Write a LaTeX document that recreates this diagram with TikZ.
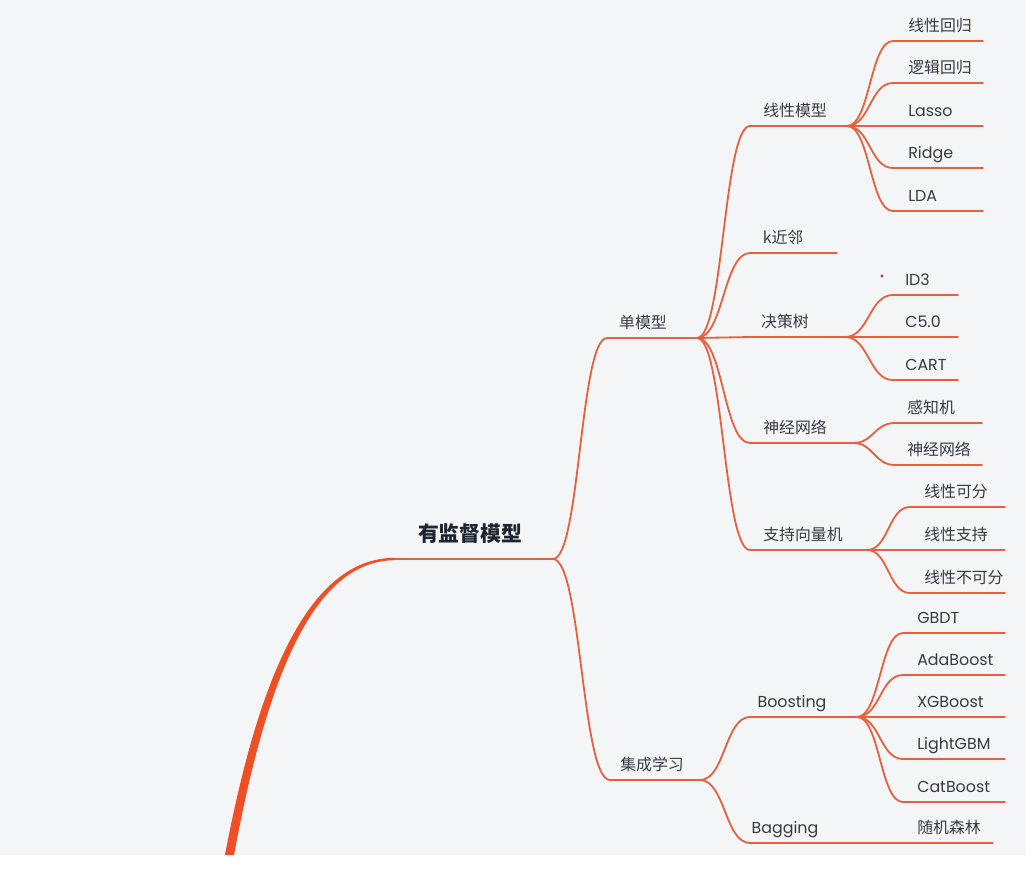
\documentclass[tikz,border=0pt]{standalone}
\usepackage{fontspec}
\setmainfont{Poppins}
\newfontfamily\cjk{Noto Sans CJK SC}
\usetikzlibrary{calc}
\definecolor{bg}{HTML}{F4F5F7}
\definecolor{brc}{HTML}{E5603D}
\definecolor{rootc}{HTML}{F04E25}
\definecolor{txt}{HTML}{363B43}
\definecolor{darktxt}{HTML}{1E2532}
\definecolor{dotc}{HTML}{C2304A}
\tikzset{
 x=0.75pt, y=-0.75pt,
 edge/.style={draw=brc, line width=1.35pt, line cap=round},
 lab/.style={anchor=base, inner sep=0pt, text=txt, font=\fontsize{11.9}{12}\selectfont},
 leaf/.style={anchor=base west, inner sep=0pt, text=txt, font=\fontsize{11.9}{12}\selectfont},
 cj/.style={font=\cjk\fontsize{11.9}{12}\selectfont},
 rootlab/.style={anchor=base, inner sep=0pt, text=darktxt, font=\cjk\bfseries\fontsize{15.6}{16}\selectfont},
}
\newcommand\mmlink[3]{\draw[edge] let \p1=(#1), \p2=(#2) in (#1) .. controls ({(\x1+\x2)/2},\y1) and ({(\x1+\x2)/2},\y2) .. (#2) -- (#3);}
\begin{document}
\begin{tikzpicture}
\fill[bg] (0,0) rectangle (1026,855);
\fill[white] (0,855) rectangle (1026,879);
\useasboundingbox (0,0) rectangle (1026,879);
% root trunk
\coordinate (r1) at (395,559);
\coordinate (h0) at (553,559);
\fill[rootc] (225,855) .. controls (258,680) and (308,557.8) .. (395,557.8) -- (395,560.2) .. controls (312,560.2) and (266,682) .. (234,855) -- cycle;
\draw[edge] (r1) -- (h0);
\node[rootlab] (root) at (470,541) {有监督模型};
% level 1
\coordinate (s1) at (607,338); \coordinate (h1) at (697,338);
\coordinate (s2) at (610,780); \coordinate (h2) at (700,780);
\mmlink{h0}{s1}{h1}
\mmlink{h0}{s2}{h2}
\node[lab,cj] (dan) at (643,328.5) {单模型};
\node[lab,cj] (jc) at (652,770.5) {集成学习};
% level 2 (single models)
\coordinate (sa) at (750,126); \coordinate (ha) at (847,126);
\coordinate (sb) at (750,253); \coordinate (eb) at (837,253);
\coordinate (sc) at (750,337); \coordinate (hc) at (845,337);
\coordinate (sd) at (750,443); \coordinate (hd) at (853,443);
\coordinate (se) at (750,550); \coordinate (he) at (867,550);
\mmlink{h1}{sa}{ha}
\mmlink{h1}{sb}{eb}
\mmlink{h1}{sc}{hc}
\mmlink{h1}{sd}{hd}
\mmlink{h1}{se}{he}
\node[lab,cj] (xm) at (795,116.5) {线性模型};
\node[lab,cj] (kn) at (783,243.5) {k近邻};
\node[lab,cj] (jcs) at (785,327.5) {决策树};
\node[lab,cj] (sj) at (795,433.5) {神经网络};
\node[lab,cj] (svm) at (803,540.5) {支持向量机};
% linear models
\foreach \i/\y in {1/41,2/83,3/126,4/168,5/211}{
 \coordinate (a\i s) at (893,\y); \coordinate (a\i e) at (983,\y);
 \mmlink{ha}{a\i s}{a\i e}}
\node[leaf,cj] (la1) at (908,31.5) {线性回归};
\node[leaf,cj] (la2) at (908,73.5) {逻辑回归};
\node[leaf] (la3) at (908,116.5) {Lasso};
\node[leaf] (la4) at (908,158.5) {Ridge};
\node[leaf] (la5) at (908,201.5) {LDA};
% decision trees
\foreach \i/\y in {1/295,2/337,3/380}{
 \coordinate (c\i s) at (893,\y); \coordinate (c\i e) at (958,\y);
 \mmlink{hc}{c\i s}{c\i e}}
\node[leaf] (lc1) at (905,285.5) {ID3};
\node[leaf] (lc2) at (905,327.5) {C5.0};
\node[leaf] (lc3) at (905,370.5) {CART};
\fill[dotc] (882,276) circle (1.6);
% neural networks
\foreach \i/\y in {1/423,2/465}{
 \coordinate (d\i s) at (895,\y); \coordinate (d\i e) at (982,\y);
 \mmlink{hd}{d\i s}{d\i e}}
\node[leaf,cj] (ld1) at (907,413.5) {感知机};
\node[leaf,cj] (ld2) at (907,455.5) {神经网络};
% svm
\foreach \i/\y in {1/507,2/550,3/593}{
 \coordinate (e\i s) at (910,\y); \coordinate (e\i e) at (1005,\y);
 \mmlink{he}{e\i s}{e\i e}}
\node[leaf,cj] (le1) at (924,497.5) {线性可分};
\node[leaf,cj] (le2) at (924,540.5) {线性支持};
\node[leaf,cj] (le3) at (924,583.5) {线性不可分};
% ensemble
\coordinate (sf) at (750,717); \coordinate (hf) at (857,717);
\coordinate (sg) at (750,843); \coordinate (eg) at (993,843);
\mmlink{h2}{sf}{hf}
\mmlink{h2}{sg}{eg}
\node[lab] (boo) at (792,707.5) {Boosting};
\node[lab] (bag) at (785,833.5) {Bagging};
\node[leaf,cj] (rf) at (917,833.5) {随机森林};
\foreach \i/\y in {1/633,2/675,3/717,4/759,5/802}{
 \coordinate (f\i s) at (903,\y); \coordinate (f\i e) at (1005,\y);
 \mmlink{hf}{f\i s}{f\i e}}
\node[leaf] (lf1) at (917,623.5) {GBDT};
\node[leaf] (lf2) at (917,665.5) {AdaBoost};
\node[leaf] (lf3) at (917,707.5) {XGBoost};
\node[leaf] (lf4) at (917,749.5) {LightGBM};
\node[leaf] (lf5) at (917,792.5) {CatBoost};
\end{tikzpicture}
\end{document}
